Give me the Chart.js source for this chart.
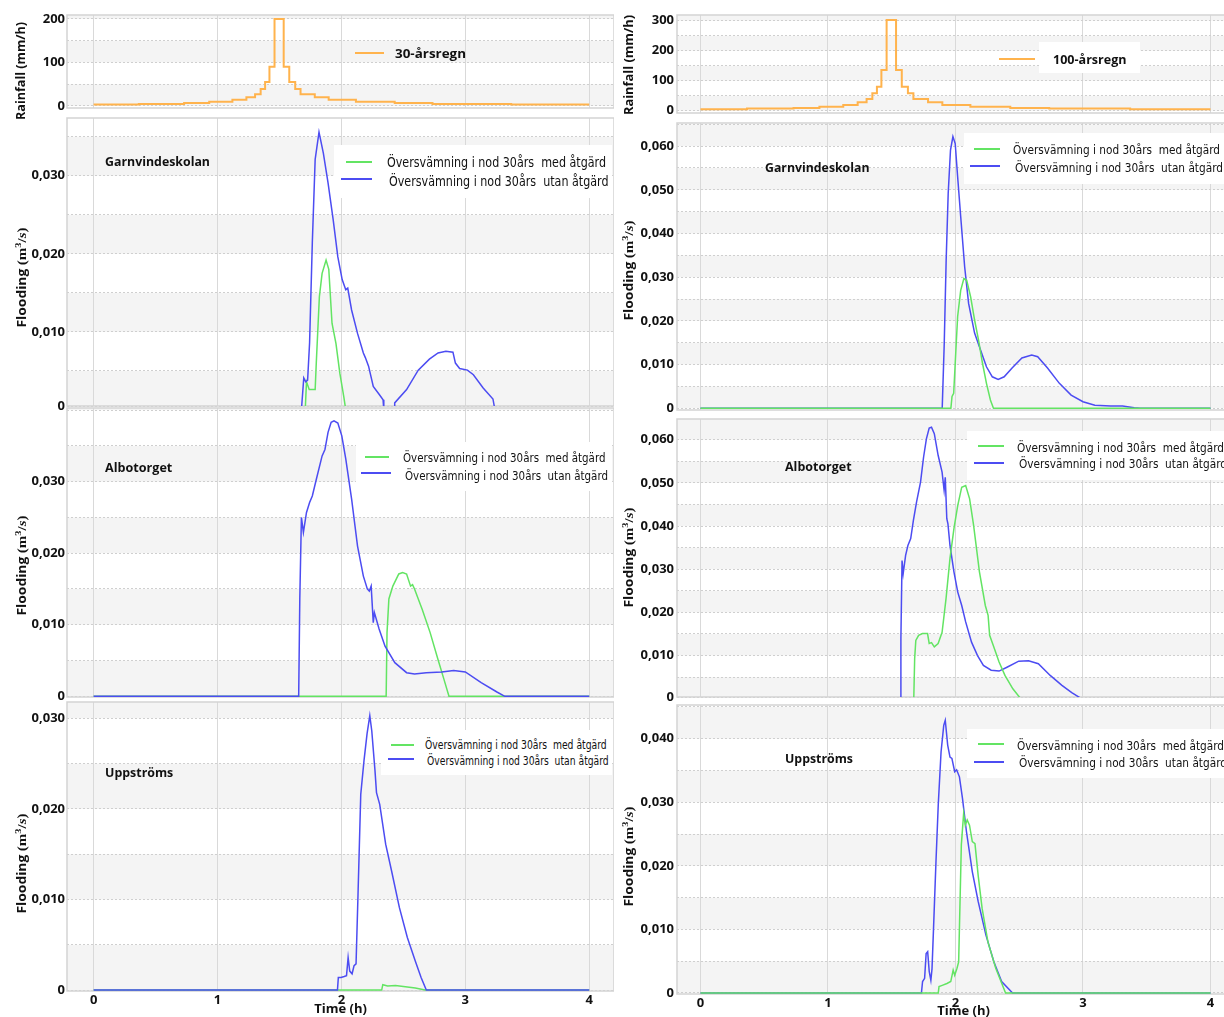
<!DOCTYPE html>
<html><head><meta charset="utf-8">
<script src="https://cdn.jsdelivr.net/npm/chart.js@4.4.1/dist/chart.umd.min.js"></script>
<style>
html,body{margin:0;padding:0;width:1224px;height:1017px;overflow:hidden;background:#fff;}
canvas{position:absolute;}
.tx{position:absolute;white-space:pre;line-height:1;color:#111;z-index:60;transform-origin:left center;}
.yt{position:absolute;white-space:pre;line-height:1;color:#111;z-index:60;font-family:'Open Sans',sans-serif;font-weight:bold;font-size:12px;}
.box{position:absolute;background:#fff;z-index:40;}
.ln{position:absolute;height:2px;z-index:50;}
</style>
</head><body>
<script>
// ---------- data ----------
const xTickLabels = [0, 1, 2, 3, 4];
const rainStarts = [0,0.365,0.73,0.933,1.12,1.233,1.303,1.348,1.384,1.419,1.46,1.534,1.579,1.627,1.67,1.785,1.897,2.117,2.43,2.735,3.37];
const rainEnd = 4.0;
const rain30 = [3.5,4.7,6.8,10,14.4,20,27,39,55,90,200,90,55,39,27,20,14.4,10,6.8,4.7,3.5];
const rain100 = [5,7,9,13,19,28,39,58,80,136,302,136,80,58,39,28,19,13,9,7,5];
const rain30Ticks = [0, 100, 200];
const rain100Ticks = [0, 100, 200, 300];
const flood30Ticks = [0, 0.010, 0.020, 0.030];
const flood100Ticks = [0, 0.010, 0.020, 0.030, 0.040, 0.050, 0.060];
const floodUpp100Ticks = [0, 0.010, 0.020, 0.030, 0.040];

const panelNames = ['Garnvindeskolan', 'Albotorget', 'Uppströms'];
const seriesNames = ['Översvämning i nod 30års  med åtgärd', 'Översvämning i nod 30års  utan åtgärd'];
const rainNames = ['30-årsregn', '100-årsregn'];

// [time (h), flooding (m3/s)]
const garn30Utan = [[0,0],[1.677,0],[1.696,0.0041],[1.712,0.0036],[1.727,0.0038],[1.743,0.0086],[1.765,0.0214],[1.788,0.0321],[1.819,0.0356],[1.854,0.0329],[1.892,0.0291],[1.933,0.0244],[1.971,0.0196],[2.006,0.0167],[2.035,0.0154],[2.051,0.0156],[2.082,0.0128],[2.13,0.0098],[2.177,0.0073],[2.193,0.0067],[2.219,0.0056],[2.257,0.0030],[2.304,0.0020],[2.336,0.0013],[2.342,0],[2.425,0],[2.43,0.0009],[2.526,0.0026],[2.62,0.0051],[2.71,0.0065],[2.78,0.0073],[2.843,0.0075],[2.9,0.0074],[2.92,0.0060],[2.954,0.0053],[3.017,0.0051],[3.065,0.0045],[3.144,0.0028],[3.223,0.0014],[3.239,0],[4,0]];
const garn30Med = [[0,0],[1.708,0],[1.718,0.0036],[1.74,0.0026],[1.765,0.0026],[1.788,0.0026],[1.797,0.006],[1.822,0.0145],[1.844,0.0175],[1.876,0.0192],[1.898,0.018],[1.924,0.0111],[1.956,0.0085],[1.987,0.0047],[2.019,0.0017],[2.035,0],[4,0]];
const albo30Utan = [[0,0],[1.655,0],[1.664,0.0136],[1.677,0.025],[1.693,0.0229],[1.718,0.0257],[1.743,0.0271],[1.765,0.028],[1.797,0.0303],[1.844,0.0336],[1.867,0.0345],[1.892,0.0369],[1.917,0.0383],[1.94,0.0385],[1.971,0.0382],[2.003,0.0364],[2.035,0.0332],[2.082,0.0276],[2.13,0.021],[2.177,0.0168],[2.209,0.015],[2.225,0.0147],[2.24,0.0154],[2.257,0.0103],[2.266,0.0117],[2.304,0.0094],[2.352,0.007],[2.431,0.0047],[2.526,0.0033],[2.59,0.0031],[2.685,0.0033],[2.81,0.0034],[2.906,0.0036],[3.0,0.0034],[3.128,0.0019],[3.255,0.0006],[3.319,0],[4,0]];
const albo30Med = [[0,0],[2.361,0],[2.368,0.0089],[2.383,0.0136],[2.415,0.0154],[2.463,0.0171],[2.494,0.0173],[2.526,0.0171],[2.558,0.0154],[2.574,0.0156],[2.59,0.015],[2.653,0.0121],[2.716,0.0089],[2.78,0.0051],[2.827,0.0024],[2.868,0],[4,0]];
const upp30Utan = [[0,0],[1.968,0],[1.975,0.0014],[1.997,0.0014],[2.022,0.0015],[2.041,0.0016],[2.054,0.0036],[2.067,0.0021],[2.086,0.0018],[2.102,0.0027],[2.118,0.0029],[2.134,0.0106],[2.156,0.0216],[2.182,0.0253],[2.207,0.0283],[2.229,0.0303],[2.245,0.0286],[2.271,0.0242],[2.283,0.0218],[2.309,0.0205],[2.357,0.0161],[2.404,0.0132],[2.468,0.0091],[2.532,0.0058],[2.596,0.0032],[2.643,0.0014],[2.685,0],[4,0]];
const upp30Med = [[0,0],[2.325,0],[2.334,0.0006],[2.373,0.00045],[2.436,0.0005],[2.5,0.0004],[2.596,0.00022],[2.675,0],[4,0]];
const garn100Med = [[0,0],[1.964,0],[1.973,0.0027],[1.986,0.0034],[1.998,0.0103],[2.017,0.021],[2.041,0.027],[2.066,0.0297],[2.088,0.0293],[2.119,0.0255],[2.15,0.0202],[2.181,0.0156],[2.212,0.0103],[2.243,0.0057],[2.274,0.0019],[2.298,0],[4,0]];
const garn100Utan = [[0,0],[1.896,0],[1.912,0.0149],[1.927,0.0339],[1.943,0.0492],[1.961,0.0591],[1.98,0.0622],[1.998,0.0606],[2.017,0.053],[2.041,0.0439],[2.072,0.0324],[2.103,0.024],[2.15,0.0172],[2.196,0.0134],[2.243,0.0095],[2.289,0.0072],[2.335,0.0066],[2.382,0.0072],[2.444,0.0092],[2.521,0.0115],[2.598,0.0122],[2.645,0.0118],[2.722,0.0092],[2.815,0.0057],[2.907,0.003],[3.0,0.0015],[3.093,0.0007],[3.217,0.0005],[3.31,0.0005],[3.402,0.0001],[3.449,0],[4,0]];
const albo100Med = [[0,0],[1.673,0],[1.68,0.0093],[1.689,0.0135],[1.711,0.0147],[1.741,0.0151],[1.781,0.0151],[1.794,0.0128],[1.812,0.013],[1.834,0.012],[1.864,0.0128],[1.895,0.0154],[1.926,0.0232],[1.957,0.0325],[1.988,0.0394],[2.018,0.0448],[2.049,0.049],[2.08,0.0494],[2.111,0.0463],[2.142,0.0402],[2.188,0.0294],[2.234,0.0216],[2.256,0.0193],[2.268,0.0147],[2.296,0.0124],[2.342,0.0085],[2.388,0.0054],[2.45,0.0023],[2.512,0],[4,0]];
const albo100Utan = [[0,0],[1.565,0],[1.572,0.0139],[1.581,0.032],[1.59,0.029],[1.609,0.0332],[1.627,0.0355],[1.649,0.0371],[1.67,0.0413],[1.695,0.0456],[1.726,0.0502],[1.75,0.056],[1.772,0.0602],[1.794,0.0627],[1.812,0.0629],[1.834,0.0614],[1.864,0.0564],[1.895,0.0525],[1.911,0.0483],[1.92,0.0513],[1.932,0.0417],[1.941,0.0405],[1.957,0.0355],[1.988,0.0294],[2.018,0.0247],[2.049,0.0216],[2.08,0.0178],[2.126,0.0131],[2.173,0.01],[2.219,0.0077],[2.28,0.0066],[2.342,0.0064],[2.404,0.0073],[2.496,0.0087],[2.573,0.0088],[2.65,0.0081],[2.743,0.0054],[2.835,0.0031],[2.912,0.0014],[2.989,0],[4,0]];
const upp100Med = [[0,0],[1.865,0],[1.871,0.001],[1.896,0.0012],[1.933,0.0015],[1.963,0.0018],[1.982,0.0036],[1.994,0.0028],[2.012,0.0039],[2.025,0.0049],[2.034,0.0128],[2.046,0.0233],[2.064,0.0282],[2.077,0.0264],[2.092,0.0272],[2.11,0.0264],[2.132,0.0238],[2.153,0.0235],[2.178,0.0185],[2.209,0.0133],[2.255,0.008],[2.316,0.0039],[2.393,0],[4,0]];
const upp100Utan = [[0,0],[1.733,0],[1.742,0.0018],[1.758,0.0023],[1.77,0.0062],[1.782,0.0065],[1.794,0.0034],[1.807,0.002],[1.816,0.0038],[1.828,0.0102],[1.847,0.0206],[1.865,0.0296],[1.887,0.0379],[1.908,0.0421],[1.92,0.0429],[1.939,0.039],[1.957,0.0371],[1.972,0.0369],[1.994,0.0348],[2.009,0.0351],[2.031,0.034],[2.055,0.0306],[2.086,0.0254],[2.132,0.0191],[2.178,0.0144],[2.239,0.0091],[2.301,0.0049],[2.362,0.0018],[2.448,0],[4,0]];

// ---------- styling / layout ----------
const ORANGE = '#ffb34d', GREEN = '#63e463', BLUE = '#4c4cf2';
const FONT = "'Open Sans', sans-serif";
const PAD = 12;
Chart.defaults.font.family = FONT;
Chart.defaults.color = '#111';

const COLS = {
  L: {plotLeft: 67, plotRight: 614, yW: 67, xMin: -0.215, xMax: 4.2, tickPad: 2, xH: 26},
  R: {plotLeft: 677, plotRight: 1250, yW: 65, xMin: -0.184, xMax: 4.31, tickPad: 3, xH: 25}
};

function stepData(vals) {
  const out = [];
  for (let i = 0; i < vals.length; i++) {
    const s = rainStarts[i], e = i + 1 < rainStarts.length ? rainStarts[i + 1] : rainEnd;
    out.push({x: s, y: vals[i]}, {x: e, y: vals[i]});
  }
  return out;
}
const pts = a => a.map(([x, y]) => ({x, y}));
const fmtRain = v => String(Math.round(v));
const fmtFlood = v => v === 0 ? '0' : v.toFixed(3).replace('.', ',');

const panels = [
  {col:'L', top:15, bottom:108, yMin:-4.6, yMax:209, ticks:rain30Ticks, half:50, fmt:fmtRain,
   sets:[{d:stepData(rain30), c:ORANGE, w:2}]},
  {col:'L', top:118, bottom:406, yMin:0.0005, yMax:0.0374, ticks:flood30Ticks, half:0.005, fmt:fmtFlood,
   sets:[{d:pts(garn30Utan), c:BLUE, w:1.5},{d:pts(garn30Med), c:GREEN, w:1.5}]},
  {col:'L', top:408, bottom:697, yMin:-0.0001, yMax:0.0403, ticks:flood30Ticks, half:0.005, fmt:fmtFlood,
   sets:[{d:pts(albo30Utan), c:BLUE, w:1.5},{d:pts(albo30Med), c:GREEN, w:1.5}]},
  {col:'L', top:702, bottom:991, yMin:-0.0001, yMax:0.0318, ticks:flood30Ticks, half:0.005, fmt:fmtFlood, showX:true,
   sets:[{d:pts(upp30Utan), c:BLUE, w:1.5},{d:pts(upp30Med), c:GREEN, w:1.5}]},
  {col:'R', top:15, bottom:113, yMin:-7.7, yMax:319, ticks:rain100Ticks, half:50, fmt:fmtRain,
   sets:[{d:stepData(rain100), c:ORANGE, w:2}]},
  {col:'R', top:123, bottom:410, yMin:-0.0004, yMax:0.0653, ticks:flood100Ticks, half:0.005, fmt:fmtFlood,
   sets:[{d:pts(garn100Med), c:GREEN, w:1.5},{d:pts(garn100Utan), c:BLUE, w:1.5}]},
  {col:'R', top:419, bottom:697, yMin:0.0004, yMax:0.0648, ticks:flood100Ticks, half:0.005, fmt:fmtFlood,
   sets:[{d:pts(albo100Med), c:GREEN, w:1.5},{d:pts(albo100Utan), c:BLUE, w:1.5}]},
  {col:'R', top:705, bottom:994, yMin:-0.00016, yMax:0.0453, ticks:floodUpp100Ticks, half:0.005, fmt:fmtFlood, showX:true,
   sets:[{d:pts(upp100Med), c:GREEN, w:1.5},{d:pts(upp100Utan), c:BLUE, w:1.5}]}
];

const bandPlugin = {
  id: 'bands',
  beforeDraw(chart, args, opts) {
    const {ctx, chartArea: a, scales: {y}} = chart;
    ctx.save();
    ctx.beginPath(); ctx.rect(a.left, a.top, a.width, a.height); ctx.clip();
    ctx.fillStyle = '#ffffff'; ctx.fillRect(a.left, a.top, a.width, a.height);
    ctx.fillStyle = '#f4f4f4';
    for (let v = 0; v < y.max; v += 2 * opts.half) {
      const y1 = y.getPixelForValue(v + opts.half), y2 = y.getPixelForValue(v);
      ctx.fillRect(a.left, y1, a.width, y2 - y1);
    }
    ctx.restore();
  },
  beforeDatasetsDraw(chart) {
    const {ctx, chartArea: a} = chart;
    ctx.save();
    ctx.strokeStyle = '#d3d3d3'; ctx.lineWidth = 1.5;
    ctx.strokeRect(a.left, a.top, a.width, a.height);
    ctx.restore();
  }
};

panels.forEach((p, idx) => {
  const col = COLS[p.col];
  const plotW = col.plotRight - col.plotLeft, plotH = p.bottom - p.top;
  const cv = document.createElement('canvas');
  const W = col.yW + plotW, H = PAD + plotH + (p.showX ? col.xH : PAD);
  cv.width = W; cv.height = H;
  cv.style.left = (col.plotLeft - col.yW) + 'px';
  cv.style.top = (p.top - PAD) + 'px';
  cv.style.width = W + 'px'; cv.style.height = H + 'px';
  cv.style.zIndex = String(20 - idx);
  document.body.appendChild(cv);
  const tickFont = {family: FONT, weight: 'bold', size: 13};
  new Chart(cv, {
    type: 'line',
    data: {datasets: p.sets.map(s => ({data: s.d, borderColor: s.c, borderWidth: s.w, pointRadius: 0, fill: false, tension: 0}))},
    options: {
      responsive: false, animation: false, events: [],
      layout: {padding: {top: PAD, bottom: p.showX ? 0 : PAD, left: 0, right: 0}},
      plugins: {legend: {display: false}, tooltip: {enabled: false}, bands: {half: p.half}},
      scales: {
        x: {
          type: 'linear', min: col.xMin, max: col.xMax,
          afterBuildTicks: s => { s.ticks = xTickLabels.map(v => ({value: v})); },
          afterFit: s => { s.height = p.showX ? col.xH : 0; s.paddingLeft = 0; s.paddingRight = 0; },
          grid: {color: '#d9d9d9', lineWidth: 1, drawTicks: false},
          border: {display: false},
          ticks: {display: !!p.showX, padding: 1, font: tickFont, color: '#111', maxRotation: 0, autoSkip: false,
                  callback: v => String(v)},
          title: {display: !!p.showX, text: 'Time (h)', padding: {top: 0, bottom: 0}, font: {family: FONT, weight: 'bold', size: 13}, color: '#111'}
        },
        y: {
          type: 'linear', min: p.yMin, max: p.yMax,
          afterBuildTicks: s => {
            const vals = [];
            for (let k = 0; k * p.half <= p.yMax + 1e-12; k++) vals.push(Math.max(k * p.half, p.yMin));
            s.ticks = vals.map(v => ({value: v}));
          },
          afterFit: s => { s.width = col.yW; s.paddingTop = 0; s.paddingBottom = 0; },
          grid: {color: '#cfcfcf', lineWidth: 1, drawTicks: false},
          border: {display: false, dash: [2, 2]},
          ticks: {padding: col.tickPad, font: tickFont, color: '#111', autoSkip: false,
                  callback: (v, i) => {
                    const raw = i * p.half;
                    const lab = p.ticks.find(t => Math.abs(t - raw) < 1e-9);
                    return lab === undefined ? '' : p.fmt(lab);
                  }}
        }
      }
    },
    plugins: [bandPlugin]
  });
});

// ---------- text overlays ----------
function addText(txt, x, cy, font, targetW) {
  const d = document.createElement('div');
  d.className = 'tx'; d.style.font = font; d.textContent = txt;
  d.style.left = x + 'px'; d.style.top = cy + 'px';
  document.body.appendChild(d);
  const w = d.getBoundingClientRect().width;
  const s = targetW ? targetW / w : 1;
  d.style.transform = 'translateY(-50%) scaleX(' + s + ')';
}
function addYTitle(html, cx, cy, len) {
  const d = document.createElement('div');
  d.className = 'yt'; d.innerHTML = html;
  document.body.appendChild(d);
  const r = d.getBoundingClientRect();
  const s = len / r.width;
  d.style.left = (cx - r.width / 2) + 'px';
  d.style.top = (cy - r.height / 2) + 'px';
  d.style.transform = 'rotate(-90deg) scaleX(' + s + ')';
  d.style.transformOrigin = 'center center';
}
function addBox(x1, y1, x2, y2) {
  const d = document.createElement('div'); d.className = 'box';
  d.style.left = x1 + 'px'; d.style.top = y1 + 'px';
  d.style.width = (x2 - x1) + 'px'; d.style.height = (y2 - y1) + 'px';
  document.body.appendChild(d);
}
function addLine(x1, x2, y, color) {
  const d = document.createElement('div'); d.className = 'ln';
  d.style.left = x1 + 'px'; d.style.top = (y - 1) + 'px';
  d.style.width = (x2 - x1) + 'px'; d.style.background = color;
  document.body.appendChild(d);
}
const BOLD13 = "bold 13px 'Open Sans', sans-serif";
const flood = 'Flooding <span style="font-family:\'Liberation Serif\',serif;font-size:13px">(m<sup style="font-size:9px;line-height:0">3</sup>/<i>s</i>)</span>';

// y titles
addYTitle('Rainfall (mm/h)', 21, 71, 98);
addYTitle('Rainfall (mm/h)', 628.5, 65, 100);
addYTitle(flood, 21, 277, 100);
addYTitle(flood, 21, 565, 100);
addYTitle(flood, 21, 863, 100);
addYTitle(flood, 628, 270, 100);
addYTitle(flood, 628, 557, 100);
addYTitle(flood, 628, 856, 100);

// rainfall legends
addLine(355, 384, 53, ORANGE);
addText(rainNames[0], 395, 53, BOLD13, 71);
addBox(1039, 42, 1140, 73);
addLine(999, 1035, 59, ORANGE);
addText(rainNames[1], 1052.5, 59, BOLD13, 73.5);

// panel names
addText(panelNames[0], 104.7, 160.7, BOLD13, 105);
addText(panelNames[1], 104.7, 466.7, BOLD13, 67.3);
addText(panelNames[2], 104.7, 771.7, BOLD13, 68.3);
addText(panelNames[0], 764.7, 167.3, BOLD13, 104.5);
addText(panelNames[1], 785.4, 466, BOLD13, 66.6);
addText(panelNames[2], 785.4, 758.3, BOLD13, 68);

// flooding legends
const LG = "14px 'Liberation Sans Narrow', 'DejaVu Sans Condensed', sans-serif";
const LG13 = "13px 'Liberation Sans Narrow', 'DejaVu Sans Condensed', sans-serif";
const LG12 = "12px 'Liberation Sans Narrow', 'DejaVu Sans Condensed', sans-serif";
// left Garnvindeskolan
addBox(334, 145, 612, 198);
addLine(346, 372, 161.7, GREEN); addLine(341, 372, 179.3, BLUE);
addText(seriesNames[0], 386.6, 161.7, LG, 219);
addText(seriesNames[1], 388.5, 181, LG, 219.5);
// left Albotorget
addBox(355.7, 441.7, 612, 490.7);
addLine(365, 389, 456.7, GREEN); addLine(360.5, 390.5, 473.3, BLUE);
addText(seriesNames[0], 403, 456.7, LG13, 202.5);
addText(seriesNames[1], 405, 475, LG13, 203);
// left Uppströms
addBox(381.4, 730, 612, 775);
addLine(391, 414, 745, GREEN); addLine(388, 414, 759.3, BLUE);
addText(seriesNames[0], 425, 745, LG12, 181.7);
addText(seriesNames[1], 427, 760.7, LG12, 181.7);
// right Garnvindeskolan
addBox(964, 133, 1230, 184);
addLine(974, 1000, 149, GREEN); addLine(970, 1000, 166, BLUE);
addText(seriesNames[0], 1013, 149, LG13, 207);
addText(seriesNames[1], 1015, 167.3, LG13, 208);
// right Albotorget
addBox(967, 431, 1230, 480);
addLine(978, 1003.5, 446, GREEN); addLine(974, 1004, 462.7, BLUE);
addText(seriesNames[0], 1017, 446.7, LG13, 207);
addText(seriesNames[1], 1019, 463, LG13, 208);
// right Uppströms
addBox(967, 729, 1230, 778);
addLine(978, 1003.5, 744.3, GREEN); addLine(974, 1004, 761.7, BLUE);
addText(seriesNames[0], 1017, 745, LG13, 207);
addText(seriesNames[1], 1019, 762, LG13, 208);
</script>
</body></html>
